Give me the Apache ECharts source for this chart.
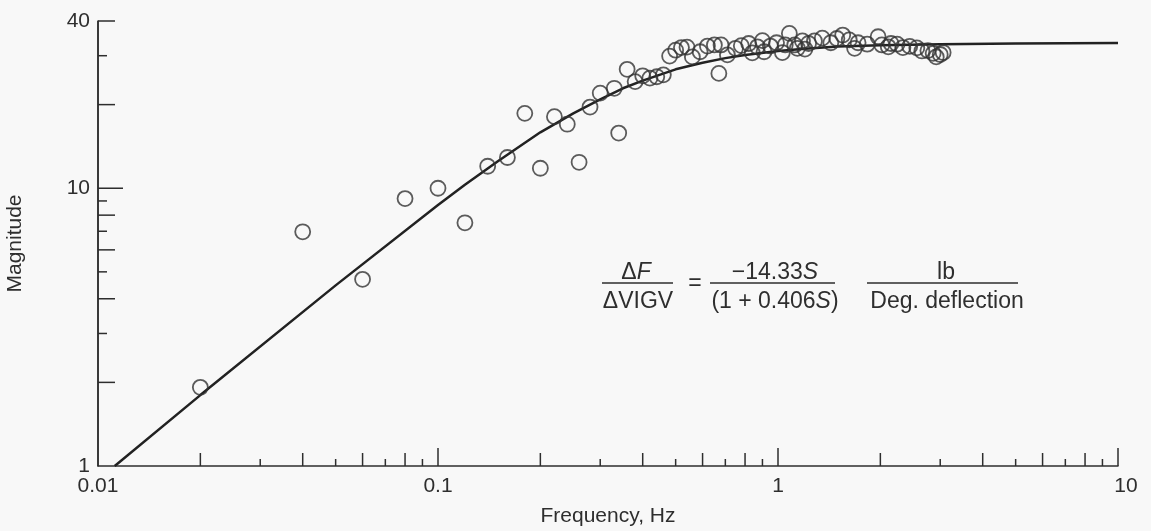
<!DOCTYPE html>
<html><head><meta charset="utf-8">
<script src="https://cdn.jsdelivr.net/npm/echarts@6/dist/echarts.min.js"></script>
<style>html,body{margin:0;padding:0;background:#f8f8f8}#c{width:1151px;height:531px}</style>
</head><body><div id="c"></div>
<script>
// ---- axis ticks / labels ----
const xTickLabels = [0.01, 0.1, 1, 10];
const yTickLabels = [1, 10, 40];
const xMajorTicks = [0.1, 1, 10];
const xMinorLong = [0.02, 0.04, 0.06, 0.08, 0.2, 0.4, 0.6, 0.8, 2, 4, 6, 8];
const xMinorShort = [0.03, 0.05, 0.07, 0.09, 0.3, 0.5, 0.7, 0.9, 3, 5, 7, 9];
const yMajorTicks = [10, 40];
const yMinorLong = [2, 4, 6, 8, 20];
const yMinorShort = [3, 5, 7, 9, 30];

// ---- fitted transfer-function curve ----
const curveFreq = [0.0112, 0.02, 0.05, 0.1, 0.12, 0.15, 0.2, 0.25, 0.3, 0.35, 0.4, 0.5, 0.6, 0.7, 0.8, 1.0, 1.2, 1.5, 2.0, 3.0, 5.0, 10];
const curveMag  = [1.0, 1.80, 4.47, 8.7, 10.3, 12.5, 15.9, 18.6, 20.9, 22.9, 24.4, 26.8, 28.3, 29.4, 30.2, 31.2, 31.8, 32.4, 32.7, 33.0, 33.2, 33.3];

// ---- measured data (circles) ----
const dataFreq = [0.02, 0.04, 0.06, 0.08, 0.10, 0.12, 0.14, 0.16, 0.18, 0.20, 0.22, 0.24, 0.26, 0.28, 0.30, 0.33, 0.34, 0.36, 0.38, 0.40,
  0.42, 0.44, 0.46, 0.48, 0.50, 0.52, 0.54, 0.56, 0.59, 0.62, 0.65, 0.67, 0.68, 0.71, 0.75, 0.78, 0.82, 0.84, 0.87, 0.90,
  0.91, 0.95, 0.99, 1.03, 1.05, 1.08, 1.12, 1.14, 1.18, 1.20, 1.23, 1.28, 1.35, 1.43, 1.49, 1.55, 1.62, 1.68, 1.72, 1.83,
  1.97, 2.02, 2.11, 2.15, 2.24, 2.33, 2.44, 2.56, 2.65, 2.76, 2.86, 2.92, 3.00, 3.06];
const dataMag = [1.92, 6.97, 4.70, 9.18, 10.0, 7.51, 12.0, 12.9, 18.6, 11.8, 18.1, 17.0, 12.4, 19.6, 22.0, 22.9, 15.8, 26.8, 24.2, 25.4,
  24.9, 25.2, 25.6, 29.9, 31.4, 32.1, 32.2, 29.7, 31.0, 32.5, 32.8, 25.9, 32.8, 30.2, 31.9, 32.6, 33.2, 30.7, 32.3, 34.0,
  31.0, 32.5, 33.4, 30.8, 32.8, 36.1, 32.8, 31.9, 33.9, 31.7, 33.2, 33.9, 34.7, 33.4, 34.6, 35.6, 34.2, 31.9, 33.4, 33.0,
  35.1, 32.8, 32.3, 33.2, 33.0, 32.1, 32.4, 32.0, 31.2, 31.3, 30.6, 29.7, 30.3, 30.8];

const X_MIN = xTickLabels[0], X_MAX = xTickLabels[xTickLabels.length - 1];
const Y_MIN = yTickLabels[0], Y_MAX = yTickLabels[yTickLabels.length - 1];

const FONT = '"Liberation Sans", Arial, Helvetica, sans-serif';
const INK = '#2e2e2e';
const EQ = 23;

// tick data: [x, y, kind]
const tickData = [];
xMajorTicks.forEach(v => tickData.push([v, Y_MIN, 0]));
xMinorLong.forEach(v => tickData.push([v, Y_MIN, 1]));
xMinorShort.forEach(v => tickData.push([v, Y_MIN, 2]));
yMajorTicks.forEach(v => tickData.push([X_MIN, v, v === Y_MAX ? 6 : 3]));
yMinorLong.forEach(v => tickData.push([X_MIN, v, 4]));
yMinorShort.forEach(v => tickData.push([X_MIN, v, 5]));
tickData.push([X_MIN, Y_MIN, 7]); // left axis spine
const tickLen = {0: 18, 1: 13, 2: 7, 3: 25, 4: 17, 5: 9, 6: 17};

const fmt = v => String(+Number(v).toPrecision(6));
const fmtX = v => { const s = fmt(v); return v >= X_MAX * 0.999 ? '{r|' + s + '}' : s; };

const richEq = {
  n: {fontFamily: FONT, fontSize: EQ, fill: INK},
  i: {fontFamily: FONT, fontSize: EQ, fontStyle: 'italic', fill: INK}
};

const chart = echarts.init(document.getElementById('c'), null, {renderer: 'canvas'});
chart.setOption({
  backgroundColor: '#f8f8f8',
  animation: false,
  grid: {left: 98, right: 33, top: 21, bottom: 65, containLabel: false, outerBoundsMode: 'none'},
  xAxis: {
    type: 'log', logBase: 10, min: X_MIN, max: X_MAX,
    name: 'Frequency, Hz', nameLocation: 'middle', nameGap: 40,
    nameTextStyle: {fontFamily: FONT, fontSize: 21, color: INK},
    axisLine: {show: true, onZero: false, lineStyle: {color: INK, width: 1.5}},
    axisTick: {show: false}, minorTick: {show: false},
    splitLine: {show: false}, minorSplitLine: {show: false},
    axisLabel: {fontFamily: FONT, fontSize: 21, color: INK, margin: 10, formatter: fmtX, showMinLabel: true, showMaxLabel: true,
      rich: {r: {fontFamily: FONT, fontSize: 21, color: INK, padding: [0, 0, 0, 16]}}}
  },
  yAxis: {
    type: 'log', logBase: 10, min: Y_MIN, max: Y_MAX,
    name: 'Magnitude', nameLocation: 'middle', nameGap: 72, nameRotate: 90,
    nameTextStyle: {fontFamily: FONT, fontSize: 21, color: INK},
    axisLine: {show: true, onZero: false, lineStyle: {color: INK, width: 1.5}},
    axisTick: {show: false}, minorTick: {show: false},
    splitLine: {show: false}, minorSplitLine: {show: false},
    axisLabel: {fontFamily: FONT, fontSize: 21, color: INK, margin: 8, formatter: fmt, showMinLabel: true, showMaxLabel: true}
  },
  series: [
    {
      type: 'custom', name: 'ticks', silent: true, clip: false, z: 1,
      data: tickData,
      renderItem: function (params, api) {
        const k = api.value(2);
        const p = api.coord([api.value(0), api.value(1)]);
        let shape;
        if (k === 7) {
          const top = api.coord([X_MIN, Y_MAX]);
          shape = {x1: p[0], y1: p[1], x2: top[0], y2: top[1]};
        } else if (k < 3) {
          shape = {x1: p[0], y1: p[1], x2: p[0], y2: p[1] - tickLen[k]};
        } else {
          shape = {x1: p[0], y1: p[1], x2: p[0] + tickLen[k], y2: p[1]};
        }
        return {type: 'line', shape: shape, style: {stroke: INK, lineWidth: 1.5}};
      }
    },
    {
      type: 'line', name: 'fit', z: 2,
      data: curveFreq.map((f, i) => [f, curveMag[i]]),
      showSymbol: false, smooth: false,
      lineStyle: {color: '#222', width: 2.5}
    },
    {
      type: 'scatter', name: 'data', z: 3,
      data: dataFreq.map((f, i) => [f, dataMag[i]]),
      symbol: 'circle', symbolSize: 15,
      itemStyle: {color: 'rgba(0,0,0,0)', borderColor: '#333', borderWidth: 1.8}
    }
  ],
  graphic: [
    {type: 'text', x: 636, y: 273, style: {text: '{n|Δ}{i|F}', align: 'center', verticalAlign: 'middle', fill: INK, rich: richEq}},
    {type: 'line', shape: {x1: 602, y1: 283, x2: 673, y2: 283}, style: {stroke: INK, lineWidth: 1.5}},
    {type: 'text', x: 638, y: 302, style: {text: 'ΔVIGV', align: 'center', verticalAlign: 'middle', fill: INK, font: EQ + 'px ' + FONT}},
    {type: 'text', x: 695, y: 284, style: {text: '=', align: 'center', verticalAlign: 'middle', fill: INK, font: EQ + 'px ' + FONT}},
    {type: 'text', x: 775, y: 273, style: {text: '{n|−14.33}{i|S}', align: 'center', verticalAlign: 'middle', fill: INK, rich: richEq}},
    {type: 'line', shape: {x1: 710, y1: 283, x2: 835, y2: 283}, style: {stroke: INK, lineWidth: 1.5}},
    {type: 'text', x: 775, y: 302, style: {text: '{n|(1 + 0.406}{i|S}{n|)}', align: 'center', verticalAlign: 'middle', fill: INK, rich: richEq}},
    {type: 'text', x: 946, y: 273, style: {text: 'lb', align: 'center', verticalAlign: 'middle', fill: INK, font: EQ + 'px ' + FONT}},
    {type: 'line', shape: {x1: 867, y1: 283, x2: 1018, y2: 283}, style: {stroke: INK, lineWidth: 1.5}},
    {type: 'text', x: 947, y: 302, style: {text: 'Deg. deflection', align: 'center', verticalAlign: 'middle', fill: INK, font: EQ + 'px ' + FONT}}
  ]
});
</script>
</body></html>
